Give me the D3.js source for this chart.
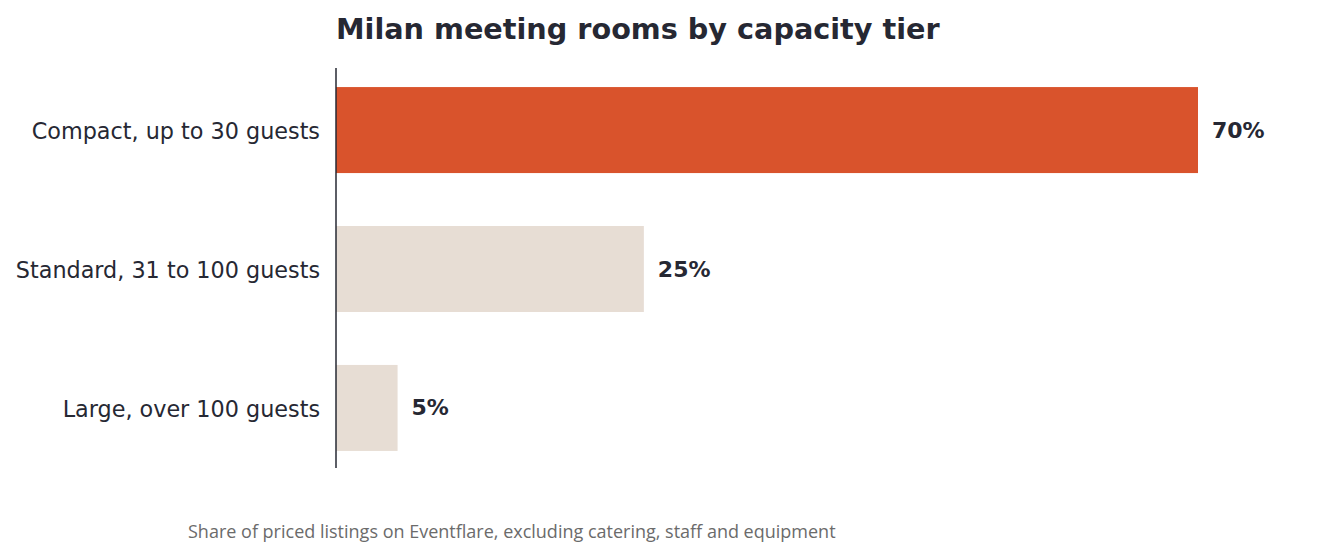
<!DOCTYPE html>
<html>
<head>
<meta charset="utf-8">
<script src="https://cdn.jsdelivr.net/npm/d3@7"></script>
<style>
  body { margin: 0; background: #fff; }
</style>
</head>
<body>
<div id="chart"></div>
<script>
const categories = ['Compact, up to 30 guests', 'Standard, 31 to 100 guests', 'Large, over 100 guests']
const shares = [70, 25, 5]
const highlight = [true, false, false]

const width = 1343
const height = 557
const margin = { top: 68, right: 145, bottom: 89, left: 336 }

const colors = {
  highlight: '#D9532C',
  muted: '#E7DDD4',
  text: '#262833',
  caption: '#6B6B6B',
}

const svg = d3
  .select('#chart')
  .append('svg')
  .attr('width', width)
  .attr('height', height)

const x = d3
  .scaleLinear()
  .domain([0, 70])
  .range([margin.left, width - margin.right])

const y = d3
  .scaleBand()
  .domain(categories)
  .range([margin.top + 1, height - margin.bottom + 1])
  .paddingInner(0.381)
  .paddingOuter(0.13)

const rows = categories.map((c, i) => ({ cat: c, value: shares[i], hi: highlight[i] }))

// bars
svg
  .append('g')
  .selectAll('rect')
  .data(rows)
  .enter()
  .append('rect')
  .attr('x', x(0))
  .attr('y', d => y(d.cat))
  .attr('width', d => x(d.value) - x(0))
  .attr('height', y.bandwidth())
  .style('fill', d => (d.hi ? colors.highlight : colors.muted))

// value labels
svg
  .append('g')
  .selectAll('text')
  .data(rows)
  .enter()
  .append('text')
  .attr('x', d => x(d.value) + 14)
  .attr('y', d => y(d.cat) + y.bandwidth() / 2)
  .attr('dominant-baseline', 'central')
  .style('font-family', 'DejaVu Sans')
  .style('font-weight', 'bold')
  .style('font-size', '22px')
  .style('fill', colors.text)
  .text(d => `${d.value}%`)

// y axis, labels only plus the baseline
const yAxis = svg
  .append('g')
  .attr('transform', `translate(${margin.left},0)`)
  .call(d3.axisLeft(y).tickSize(0).tickPadding(16))

yAxis.select('.domain').remove()
yAxis
  .selectAll('text')
  .attr('dy', '0.42em')
  .style('font-family', 'DejaVu Sans')
  .style('font-size', '22.3px')
  .style('fill', colors.text)

svg
  .append('line')
  .attr('x1', margin.left)
  .attr('x2', margin.left)
  .attr('y1', margin.top)
  .attr('y2', height - margin.bottom)
  .style('stroke', colors.text)
  .style('stroke-width', 1.5)

// title
svg
  .append('text')
  .attr('x', margin.left)
  .attr('y', 39)
  .style('font-family', 'DejaVu Sans')
  .style('font-weight', 'bold')
  .style('font-size', '28.7px')
  .style('fill', colors.text)
  .text('Milan meeting rooms by capacity tier')

// caption
svg
  .append('text')
  .attr('x', 188)
  .attr('y', 538)
  .style('font-family', 'Open Sans')
  .style('font-size', '18px')
  .style('fill', colors.caption)
  .text('Share of priced listings on Eventflare, excluding catering, staff and equipment')
</script>
</body>
</html>
